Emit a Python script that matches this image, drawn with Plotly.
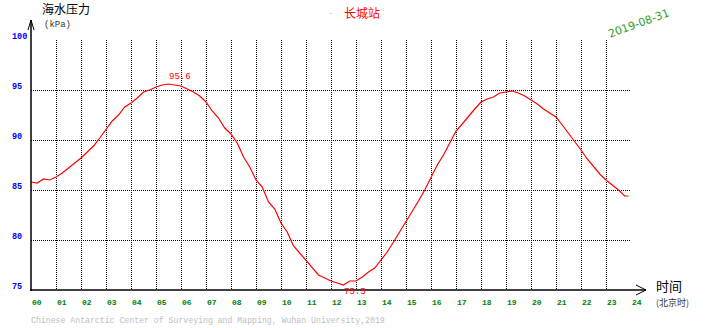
import plotly.graph_objects as go

# ---- data ----
hours = [0.00, 0.25, 0.50, 0.75, 1.00, 1.25, 1.50, 1.75, 2.00, 2.25, 2.50, 2.75,
         3.00, 3.25, 3.50, 3.75, 4.00, 4.25, 4.50, 4.75, 5.00, 5.25, 5.50, 5.75,
         6.00, 6.25, 6.50, 6.75, 7.00, 7.25, 7.50, 7.75, 8.00, 8.25, 8.50, 8.75,
         9.00, 9.25, 9.50, 9.75, 10.00, 10.25, 10.50, 10.75, 11.00, 11.25, 11.50, 11.75,
         12.00, 12.25, 12.50, 12.75, 13.00, 13.25, 13.50, 13.75, 14.00, 14.25, 14.50, 14.75,
         15.00, 15.25, 15.50, 15.75, 16.00, 16.25, 16.50, 16.75, 17.00, 17.25, 17.50, 17.75,
         18.00, 18.25, 18.50, 18.75, 19.00, 19.25, 19.50, 19.75, 20.00, 20.25, 20.50, 20.75,
         21.00, 21.25, 21.50, 21.75, 22.00, 22.25, 22.50, 22.75, 23.00, 23.25, 23.50, 23.75, 23.90]
pressure = [85.8, 85.7, 86.1, 86.0, 86.3, 86.7, 87.2, 87.7, 88.2, 88.8, 89.4, 90.2,
            91.0, 91.9, 92.5, 93.3, 93.7, 94.2, 94.8, 95.0, 95.3, 95.5, 95.6, 95.5,
            95.4, 95.1, 94.8, 94.4, 93.8, 92.9, 92.2, 91.2, 90.6, 89.7, 88.3, 87.3,
            86.0, 85.3, 83.8, 83.1, 81.7, 80.8, 79.4, 78.7, 78.0, 77.2, 76.5, 76.2,
            75.9, 75.7, 75.5, 75.9, 75.9, 76.3, 76.8, 77.2, 78.0, 78.8, 79.8, 80.8,
            81.8, 82.9, 83.9, 85.0, 86.3, 87.5, 88.5, 89.7, 90.9, 91.6, 92.4, 93.1,
            93.8, 94.1, 94.3, 94.7, 94.8, 94.9, 94.7, 94.4, 94.0, 93.6, 93.1, 92.7,
            92.3, 91.5, 90.7, 89.9, 89.0, 88.1, 87.3, 86.6, 86.0, 85.5, 85.0, 84.4, 84.4]

x_ticks = list(range(0, 25))
x_ticklabels = [f"{h:02d}" for h in x_ticks]
y_ticks = [75, 80, 85, 90, 95, 100]
y_ticklabels = ["75", "80", "85", "90", "95", "100"]

title_text = "长城站"
date_text = "2019-08-31"
footer_text = "Chinese Antarctic Center of Surveying and Mapping, Wuhan University,2019"

# ---- figure ----
W, H = 710, 328
L, R, T, B = 31, 79, 40, 38
PW, PH = W - L - R, H - T - B


def px(xp):
    return (xp - L) / PW


def py(yp):
    return (H - B - yp) / PH


fig = go.Figure()
fig.add_trace(go.Scatter(x=hours, y=pressure, mode="lines",
                         line=dict(color="#ff0000", width=1.2),
                         hoverinfo="skip", showlegend=False))

mono = "Liberation Mono"
cjk = "Noto Sans CJK SC"
ann = []

# y labels (left aligned)
for v, t in zip(y_ticks, y_ticklabels):
    ann.append(dict(x=px(10), y=v, xref="paper", yref="y", text="<b>" + t + "</b>", showarrow=False,
                    xanchor="left", yanchor="middle", yshift=3,
                    font=dict(family=mono, size=8.5, color="#0000ff")))
# x labels (left aligned at tick)
for h, t in zip(x_ticks, x_ticklabels):
    ann.append(dict(x=h, y=py(302), xref="x", yref="paper", text="<b>" + t + "</b>",
                    showarrow=False, xanchor="left", yanchor="middle", xshift=-1,
                    font=dict(family=mono, size=8, color="#008000")))

# max / min labels
imax = max(range(len(pressure)), key=lambda i: pressure[i])
imin = min(range(len(pressure)), key=lambda i: pressure[i])
ann.append(dict(x=hours[imax], y=pressure[imax], xref="x", yref="y",
                text=f"{pressure[imax]:.1f}", showarrow=False, xanchor="left",
                yanchor="bottom", xshift=-2, yshift=0,
                font=dict(family=mono, size=9, color="#ff0000")))
ann.append(dict(x=hours[imin], y=pressure[imin], xref="x", yref="y",
                text=f"{pressure[imin]:.1f}", showarrow=False, xanchor="left",
                yanchor="top", xshift=-2, yshift=0,
                font=dict(family=mono, size=9, color="#ff0000")))

# titles and other text
ann += [
    dict(x=px(40), y=py(9), xref="paper", yref="paper", text="海水压力", showarrow=False,
         xanchor="left", yanchor="middle", font=dict(family=cjk, size=12, color="#000000")),
    dict(x=px(42), y=py(25), xref="paper", yref="paper", text="(kPa)", showarrow=False,
         xanchor="left", yanchor="middle", font=dict(family=mono, size=9, color="#333333")),
    dict(x=px(331), y=py(13), xref="paper", yref="paper", text=".", showarrow=False,
         xanchor="center", yanchor="middle", font=dict(family=mono, size=6, color="#ff0000")),
    dict(x=px(342), y=py(13), xref="paper", yref="paper", text=title_text, showarrow=False,
         xanchor="left", yanchor="middle", font=dict(family=cjk, size=12, color="#ff0000")),
    dict(x=px(639), y=py(24), xref="paper", yref="paper", text=date_text, showarrow=False,
         xanchor="center", yanchor="middle", textangle=-20,
         font=dict(family="DejaVu Sans", size=11, color="#2e9e2e")),
    dict(x=px(654), y=py(285), xref="paper", yref="paper", text="时间", showarrow=False,
         xanchor="left", yanchor="middle", font=dict(family=cjk, size=13, color="#000000")),
    dict(x=px(654), y=py(302), xref="paper", yref="paper", text="(北京时)", showarrow=False,
         xanchor="left", yanchor="middle", font=dict(family=cjk, size=9, color="#333333")),
    dict(x=px(29), y=py(320), xref="paper", yref="paper", text=footer_text, showarrow=False,
         xanchor="left", yanchor="middle", font=dict(family=mono, size=8.2, color="#c0c0c0")),
]

# axis lines with open arrowheads
ln = dict(color="#000000", width=1.5)
shapes = [
    dict(type="line", xref="paper", yref="paper", x0=px(31), y0=py(291), x1=px(31), y1=py(20), line=ln),
    dict(type="line", xref="paper", yref="paper", x0=px(28), y0=py(30), x1=px(31), y1=py(20), line=dict(color="#000000", width=1)),
    dict(type="line", xref="paper", yref="paper", x0=px(34), y0=py(30), x1=px(31), y1=py(20), line=dict(color="#000000", width=1)),
    dict(type="line", xref="paper", yref="paper", x0=px(30), y0=py(290), x1=px(646), y1=py(290), line=ln),
    dict(type="line", xref="paper", yref="paper", x0=px(636), y0=py(285), x1=px(646), y1=py(290), line=dict(color="#000000", width=1)),
    dict(type="line", xref="paper", yref="paper", x0=px(636), y0=py(295), x1=px(646), y1=py(290), line=dict(color="#000000", width=1)),
]

fig.update_layout(
    width=W, height=H,
    margin=dict(l=L, r=R, t=T, b=B, pad=0),
    paper_bgcolor="#ffffff", plot_bgcolor="#ffffff",
    showlegend=False,
    xaxis=dict(range=[0, 24], tickvals=x_ticks, showticklabels=False, ticks="",
               showgrid=True, gridcolor="#000000", gridwidth=1, griddash="1px,1px",
               zeroline=False, showline=False, fixedrange=True),
    yaxis=dict(range=[75, 100], tickvals=y_ticks, showticklabels=False, ticks="",
               showgrid=True, gridcolor="#000000", gridwidth=1, griddash="1px,1px",
               zeroline=False, showline=False, fixedrange=True),
    annotations=ann,
    shapes=shapes,
)

fig.write_html("out.html", config={"displayModeBar": False})
